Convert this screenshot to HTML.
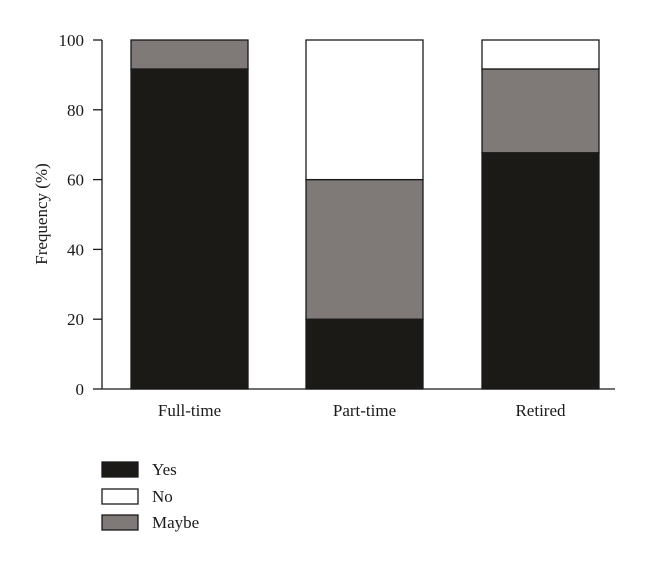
<!DOCTYPE html>
<html><head><meta charset="utf-8"><style>
body{margin:0;background:#fff}
svg text{font-family:"Liberation Serif",serif;fill:#1a1a1a}
</style></head><body>
<svg id="chart" width="660" height="567">
<g id="plot"></g>
<g id="legend"></g>
</svg>
<script>
const categories=["Full-time","Part-time","Retired"];
const yesVals=[91.7,20,67.7];
const maybeVals=[8.3,40,24];
const noVals=[0,40,8.3];
const yTicks=[0,20,40,60,80,100];
const seriesNames=["Yes","No","Maybe"];
const NS="http://www.w3.org/2000/svg";
const plot=document.getElementById('plot'),legend=document.getElementById('legend');
const y0=389,y100=40,axisX=102;
const y=v=>y0-(v/100)*(y0-y100);
const barW=117,centers=[189.5,364.5,540.5];
const x=i=>centers[i]-barW/2;
function mk(tag,attrs,parent){const e=document.createElementNS(NS,tag);for(const k in attrs)e.setAttribute(k,attrs[k]);parent.appendChild(e);return e;}
const colors={Yes:"#1c1a17",Maybe:"#7f7a77",No:"#ffffff"};
categories.forEach((c,i)=>{
  const segs=[["Yes",0,yesVals[i]],["Maybe",yesVals[i],yesVals[i]+maybeVals[i]],["No",yesVals[i]+maybeVals[i],yesVals[i]+maybeVals[i]+noVals[i]]];
  segs.forEach(s=>{
    if(s[2]-s[1]<=0)return;
    const r=mk('rect',{x:x(i),y:y(s[2]),width:barW,height:y(s[1])-y(s[2]),fill:colors[s[0]],stroke:"#1a1a1a","stroke-width":1.3},plot);
    
    
  });
  const t=mk('text',{x:centers[i],y:416,"text-anchor":"middle","font-size":17},plot);
  t.textContent=c;
  
  
});
const ya=mk('line',{x1:axisX,y1:y100,x2:axisX,y2:y0,stroke:"#1a1a1a","stroke-width":1.3},plot);


const xa=mk('line',{x1:axisX,y1:y0,x2:615,y2:y0,stroke:"#1a1a1a","stroke-width":1.3},plot);


yTicks.forEach(v=>{
  const l=mk('line',{x1:93,y1:y(v),x2:axisX,y2:y(v),stroke:"#1a1a1a","stroke-width":1.3},plot);
  
  
  const t=mk('text',{x:84,y:y(v)+6,"text-anchor":"end","font-size":17},plot);
  t.textContent=v;
  
  
});
const yt=mk('text',{x:47,y:214,"text-anchor":"middle","font-size":17,transform:"rotate(-90 47 214)"},plot);
yt.textContent="Frequency (%)";


const ly=[462,489,515];
seriesNames.forEach((n,i)=>{
  const r=mk('rect',{x:102,y:ly[i],width:36,height:15,fill:colors[n],stroke:"#1a1a1a","stroke-width":1.3},legend);
  
  
  const t=mk('text',{x:152,y:ly[i]+13,"font-size":17},legend);
  t.textContent=n;
  
  
});
</script>
</body></html>
